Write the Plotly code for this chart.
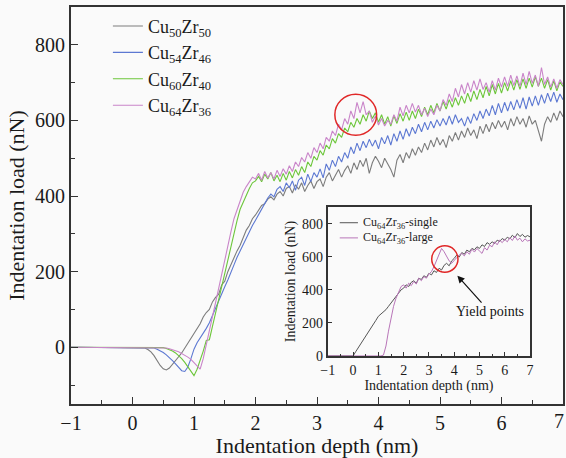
import plotly.graph_objects as go

# ---------------- data (main panel): load (nN) at depth 0.00..7.00 nm, step 0.05 ----------------
DEPTH_STEP = 0.05
START_DEPTH = -1.0

LOAD_CU50 = [
    0, 0, 0, 0, -2, -6, -12, -22, -35, -48,
    -57, -60, -55, -44, -36, -25, -15, -2, 12, 25,
    38, 50, 62, 80, 92, 100, 120, 132, 140, 165,
    175, 200, 218, 240, 255, 270, 290, 310, 322, 340,
    350, 362, 375, 380, 392, 398, 390, 405, 412, 400,
    420, 425, 408, 430, 418, 435, 412, 428, 440, 420,
    438, 445, 425, 450, 462, 440, 455, 470, 450, 468,
    480, 460, 488, 470, 495, 478, 500, 460, 488, 505,
    492, 475, 500, 485, 470, 450, 495, 510, 488, 515,
    500, 525, 508, 530, 515, 540, 522, 548, 530, 555,
    535, 550, 528, 560, 545, 568, 548, 572, 555, 580,
    560, 575, 552, 585, 565, 590, 570, 595, 578, 600,
    582, 598, 575, 605, 585, 610, 590, 605, 582, 612,
    590, 600, 575, 545, 590, 610, 595, 620, 600, 625,
    610,
]
LOAD_CU54 = [
    0, 0, 0, 0, 0, 0, 0, -2, -5, -9,
    -14, -20, -27, -35, -44, -54, -62, -64, -52, -30,
    -5, 12, 25, 35, 50, 65, 85, 100, 120, 140,
    160, 178, 200, 218, 238, 255, 275, 292, 308, 322,
    336, 352, 368, 380, 395, 405, 398, 418, 425, 412,
    435, 422, 440, 415, 442, 450, 428, 458, 438, 462,
    450, 472, 448, 485, 468, 495, 478, 505, 490, 515,
    500, 530, 512, 540, 520, 545, 528, 550, 532, 548,
    525, 555, 538, 560, 535, 565, 545, 572, 550, 578,
    558, 582, 565, 590, 570, 595, 575, 598, 580, 602,
    585, 605, 588, 612, 590, 615, 595, 605, 585, 610,
    592, 618, 600, 625, 605, 630, 612, 640, 615, 645,
    620, 648, 625, 650, 628, 655, 632, 660, 630, 662,
    638, 665, 640, 668, 645, 672, 650, 675, 648, 670,
    655,
]
LOAD_CU60 = [
    0, 0, 0, 0, 0, 0, 0, 0, 0, 0,
    -1, -3, -6, -10, -15, -22, -30, -40, -52, -66,
    -75, -58, -35, -10, 18, 20, 55, 90, 125, 160,
    200, 235, 270, 305, 335, 365, 385, 405, 420, 435,
    440, 452, 438, 458, 445, 462, 440, 455, 438, 460,
    442, 465, 448, 470, 455, 478, 462, 490, 478, 505,
    495, 520, 508, 535, 525, 552, 540, 565, 555, 580,
    570, 595, 582, 605, 590, 615, 598, 625, 605, 620,
    595, 615, 590, 610, 585, 612, 592, 618, 598, 622,
    600, 625, 605, 630, 610, 635, 615, 640, 620, 645,
    625, 650, 630, 655, 635, 660, 640, 665, 645, 672,
    650, 678, 655, 682, 660, 690, 665, 695, 670, 698,
    672, 700, 678, 705, 680, 708, 682, 710, 685, 712,
    688, 715, 690, 712, 685, 708, 680, 705, 678, 702,
    690,
]
LOAD_CU64 = [
    0, 0, 0, 0, 0, 0, 0, 0, 0, 0,
    -1, -2, -4, -6, -9, -12, -16, -20, -26, -32,
    -40, -50, -58, -30, 5, 40, 78, 118, 155, 195,
    232, 270, 305, 340, 365, 390, 410, 425, 438, 450,
    445, 460, 442, 465, 448, 462, 445, 468, 452, 472,
    458, 480, 465, 490, 478, 502, 490, 515, 500, 528,
    515, 540, 525, 555, 545, 572, 560, 590, 575, 605,
    590, 625, 605, 648, 620, 650, 615, 625, 595, 612,
    588, 605, 585, 600, 590, 615, 598, 635, 612, 640,
    620, 645, 622, 640, 615, 632, 610, 630, 615, 640,
    625, 655, 640, 670, 650, 685, 662, 695, 670, 700,
    675, 705, 680, 710, 682, 700, 675, 705, 680, 712,
    688, 715, 690, 720, 692, 718, 690, 725, 695, 730,
    698, 720, 690, 740, 695, 715, 688, 710, 685, 708,
    695,
]

MAIN_NAMES = ["Cu<sub>50</sub>Zr<sub>50</sub>", "Cu<sub>54</sub>Zr<sub>46</sub>",
              "Cu<sub>60</sub>Zr<sub>40</sub>", "Cu<sub>64</sub>Zr<sub>36</sub>"]
MAIN_LOADS = [LOAD_CU50, LOAD_CU54, LOAD_CU60, LOAD_CU64]
MAIN_COLORS = ["#7c7c7c", "#5c78d2", "#6cc63a", "#c985c9"]

# ---------------- data (inset): load at depth 0.0..7.0 nm, step 0.1 ----------------
INSET_STEP = 0.1
LOAD_SINGLE = [
    0, 25, 48, 70, 95, 120, 140, 165, 190, 215,
    240, 252, 268, 280, 300, 320, 338, 360, 385, 400,
    410, 430, 420, 445, 455, 440, 470, 462, 485, 475,
    500, 490, 515, 505, 530, 520, 548, 560, 545, 575,
    590, 610, 598, 625, 615, 640, 630, 650, 642, 660,
    650, 672, 662, 685, 675, 690, 680, 700, 692, 710,
    700, 718, 708, 730, 715, 740, 722, 735, 718, 728,
    720,
]
LOAD_LARGE = [
    0, 0, 0, 0, 0, 0, 0, 0, 0, 0,
    0, 0, 5, 60, 150, 230, 300, 350, 390, 420,
    430, 410, 440, 425, 450, 435, 470, 455, 480, 470,
    495, 510, 540, 580, 620, 650, 630, 600, 575, 560,
    580, 595, 610, 620, 605, 630, 615, 645, 628, 650,
    635, 620, 655, 640, 670, 660, 690, 672, 700, 685,
    705, 690, 715, 698, 725, 700, 712, 690, 708, 695,
    700,
]
INSET_NAMES = ["Cu<sub>64</sub>Zr<sub>36</sub>-single", "Cu<sub>64</sub>Zr<sub>36</sub>-large"]
INSET_LOADS = [LOAD_SINGLE, LOAD_LARGE]
INSET_COLORS = ["#555555", "#b875b8"]

# highlighted yield regions (centre x, centre y, radius x, radius y)
MAIN_YIELD = (3.63, 615, 0.34, 54)
INSET_YIELD = (3.63, 586, 0.52, 80)
YIELD_ARROW_TIP = (4.1, 490)
YIELD_LABEL_POS = (5.4, 268)

X_TICKS = [-1, 0, 1, 2, 3, 4, 5, 6, 7]
X_TICK_TEXT = ["\u22121", "0", "1", "2", "3", "4", "5", "6", "7"]
Y_TICKS = [0, 200, 400, 600, 800]

for arr in MAIN_LOADS:
    assert len(arr) == 141, len(arr)
for arr in INSET_LOADS:
    assert len(arr) == 71, len(arr)

FONT = "Liberation Serif"
AX = "#333333"
BG = "#fafafa"

fig = go.Figure()

for name, load, color in zip(MAIN_NAMES, MAIN_LOADS, MAIN_COLORS):
    xs = [START_DEPTH] + [round(i * DEPTH_STEP, 3) for i in range(len(load))]
    ys = [0] + load
    fig.add_trace(go.Scatter(x=xs, y=ys, mode="lines", name=name,
                             line=dict(color=color, width=1.1), xaxis="x", yaxis="y"))

for name, load, color in zip(INSET_NAMES, INSET_LOADS, INSET_COLORS):
    xs = [START_DEPTH] + [round(i * INSET_STEP, 3) for i in range(len(load))]
    ys = [0] + load
    fig.add_trace(go.Scatter(x=xs, y=ys, mode="lines", name=name, showlegend=False,
                             line=dict(color=color, width=1), xaxis="x2", yaxis="y2"))


def ax(size, ticklen, minor_dtick, minor_len, **kw):
    d = dict(showline=True, linecolor=AX, linewidth=2, mirror=True, automargin=False,
             showgrid=False, zeroline=False, ticks="inside", ticklen=ticklen, tickwidth=1,
             tickcolor=AX, ticklabeloverflow="allow",
             tickfont=dict(family=FONT, color="#1a1a1a", size=size))
    if minor_dtick:
        d["minor"] = dict(dtick=minor_dtick, ticks="inside", ticklen=minor_len, tickcolor=AX)
    d.update(kw)
    return d


# last main x tick label is drawn right-aligned so it stays inside the page
main_tick_text = X_TICK_TEXT[:-1] + [""]

fig.update_layout(
    width=566, height=458,
    margin=dict(l=71, r=3, t=7, b=54, autoexpand=False),
    paper_bgcolor=BG, plot_bgcolor=BG,
    font=dict(family=FONT, color="#1a1a1a"),
    xaxis=ax(20, 7, 0.5, 4, range=[-1, 7], tickvals=X_TICKS, ticktext=main_tick_text,
             title=dict(text="Indentation depth (nm)", font=dict(size=22, family=FONT), standoff=6)),
    yaxis=ax(20, 7, 100, 4, range=[-150, 900], tickvals=Y_TICKS,
             title=dict(text="Indentation load (nN)", font=dict(size=22, family=FONT), standoff=4)),
    xaxis2=ax(14, 4, 0.5, 2, domain=[0.522, 0.933], anchor="y2", range=[-1, 7], tickvals=X_TICKS,
              ticktext=X_TICK_TEXT,
              title=dict(text="Indentation depth (nm)", font=dict(size=14, family=FONT), standoff=2)),
    yaxis2=ax(14, 4, None, 0, domain=[0.121, 0.496], anchor="x2", range=[0, 900], tickvals=Y_TICKS,
              title=dict(text="Indentation load (nN)", font=dict(size=14, family=FONT), standoff=3)),
    legend=dict(x=0.075, y=0.998, xanchor="left", yanchor="top", bgcolor="rgba(0,0,0,0)",
                font=dict(size=18, family=FONT), tracegroupgap=0),
)

fig.add_annotation(x=X_TICKS[-1], xref="x", y=0, yref="paper", yshift=-4,
                   xanchor="right", yanchor="top", text=X_TICK_TEXT[-1], showarrow=False,
                   xshift=3, font=dict(size=20, family=FONT, color="#1a1a1a"))

cx, cy, rx, ry = MAIN_YIELD
fig.add_shape(type="circle", xref="x", yref="y", x0=cx - rx, x1=cx + rx, y0=cy - ry, y1=cy + ry,
              line=dict(color="#e02828", width=1.5))
cx, cy, rx, ry = INSET_YIELD
fig.add_shape(type="circle", xref="x2", yref="y2", x0=cx - rx, x1=cx + rx, y0=cy - ry, y1=cy + ry,
              line=dict(color="#e02828", width=1.5))

# inset legend (swatches + labels, positioned in the inset's domain)
for k, (name, color) in enumerate(zip(INSET_NAMES, INSET_COLORS)):
    yy = 0.895 - 0.102 * k
    fig.add_shape(type="line", xref="x2 domain", yref="y2 domain", x0=0.059, x1=0.149,
                  y0=yy, y1=yy, line=dict(color=color, width=1))
    fig.add_annotation(xref="x2 domain", yref="y2 domain", x=0.163, y=yy, xanchor="left",
                       yanchor="middle", text=name, showarrow=False,
                       font=dict(size=12, family=FONT, color="#1a1a1a"))

fig.add_annotation(x=YIELD_ARROW_TIP[0], y=YIELD_ARROW_TIP[1], xref="x2", yref="y2",
                   ax=YIELD_LABEL_POS[0], ay=YIELD_LABEL_POS[1], axref="x2", ayref="y2",
                   text="Yield points", showarrow=True, arrowhead=2, arrowsize=1.2, arrowwidth=1.2,
                   arrowcolor="#111111", font=dict(size=14, family=FONT, color="#111111"),
                   standoff=1)

fig.write_html("out.html")
